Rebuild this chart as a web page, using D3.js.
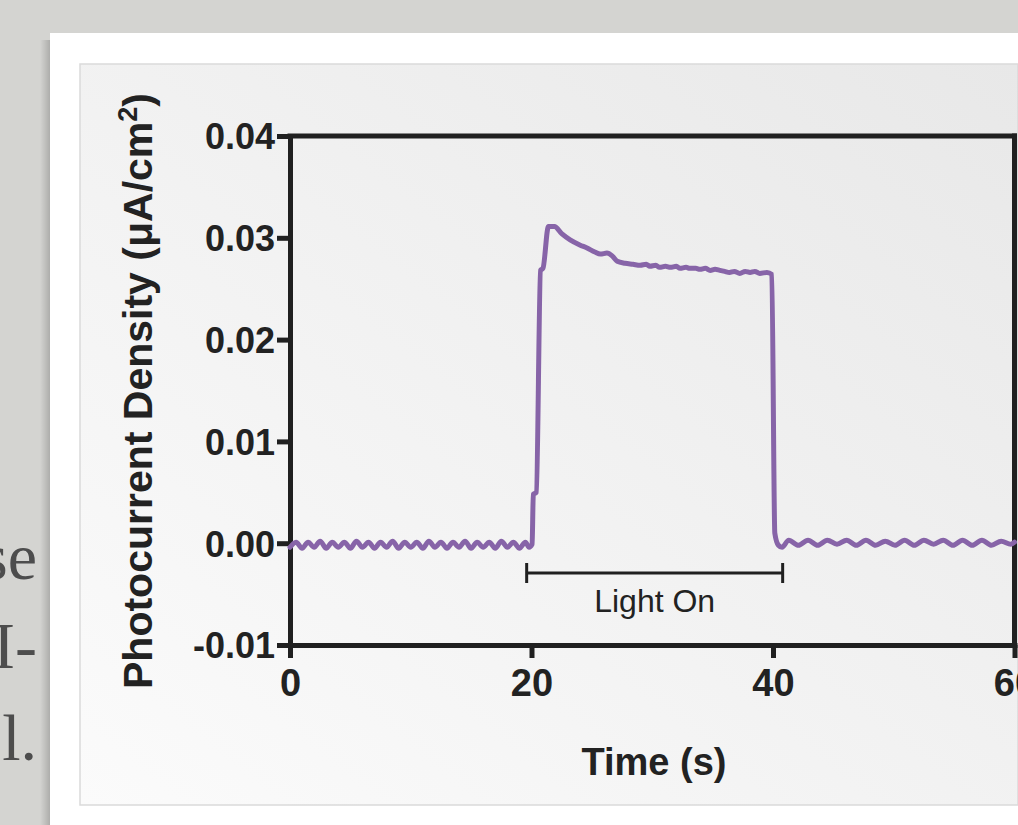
<!DOCTYPE html>
<html lang="en">
<head>
  <meta charset="UTF-8">
  <title>Photocurrent</title>
  <script src="https://cdn.jsdelivr.net/npm/d3@7"></script>
  <style>
    html, body { margin: 0; padding: 0; background: #d4d4d1; overflow: hidden; }
    svg { display: block; }
    .axis text { font-family: "Liberation Sans", Arial, sans-serif; font-weight: bold; fill: #222; }
  </style>
</head>
<body>
  <div id="container"></div>
  <script>
    const svg_width = 1018;
    const svg_height = 825;

    // data: time (s) and photocurrent density (uA/cm2)
    const tBefore = [0, 0.5, 1, 1.5, 2, 2.5, 3, 3.5, 4, 4.5, 5, 5.5, 6, 6.5, 7, 7.5, 8, 8.5, 9, 9.5,
      10, 10.5, 11, 11.5, 12, 12.5, 13, 13.5, 14, 14.5, 15, 15.5, 16, 16.5, 17, 17.5, 18, 18.5, 19, 19.5];
    const iBefore = [-0.0004, 0.0001, -0.0005, 0.0001, -0.0004, 0.0002, -0.0005, 0.0001, -0.0004, 0.0001,
      -0.0005, 0.0002, -0.0004, 0.0001, -0.0005, 0.0001, -0.0004, 0.0002, -0.0005, 0.0001,
      -0.0004, 0.0001, -0.0005, 0.0002, -0.0004, 0.0001, -0.0005, 0.0001, -0.0004, 0.0002,
      -0.0005, 0.0001, -0.0004, 0.0001, -0.0005, 0.0002, -0.0004, 0.0001, -0.0005, 0.0001];

    const tLight = [19.8, 20.05, 20.15, 20.4, 20.75, 20.95, 21.4, 21.9, 22.5, 23.2, 24.0, 24.6, 25.25, 25.7,
      26.25, 26.7, 27.1, 27.75, 28.4, 29.0, 29.5, 29.8, 30.3, 30.6, 31.1, 31.5, 32.0, 32.3, 32.8, 33.1,
      33.6, 33.95, 34.4, 34.8, 35.2, 35.6, 36.0, 36.4, 36.8, 37.25, 37.7, 38.1, 38.5, 38.9, 39.5, 39.9,
      40.15, 40.45, 40.75];
    const iLight = [-0.0004, -0.0001, 0.0048, 0.0050, 0.0268, 0.0270, 0.0311, 0.0311, 0.0304, 0.0298, 0.0293,
      0.0290, 0.0286, 0.0284, 0.0285, 0.0282, 0.0277, 0.0275, 0.0274, 0.0273, 0.0274, 0.0272, 0.0273,
      0.0271, 0.0272, 0.0271, 0.0272, 0.0270, 0.0271, 0.0270, 0.0270, 0.0269, 0.0270, 0.0268, 0.0269,
      0.0268, 0.0267, 0.0266, 0.0267, 0.0265, 0.0267, 0.0266, 0.0267, 0.0265, 0.0266, 0.0264,
      0.0010, -0.0002, -0.0004];

    const tAfter = [41.3, 42.1, 42.9, 43.7, 44.5, 45.3, 46.1, 46.9, 47.7, 48.5, 49.3, 50.1, 50.9, 51.7,
      52.5, 53.3, 54.1, 54.9, 55.7, 56.5, 57.3, 58.1, 58.9, 59.7, 60.0];
    const iAfter = [0.0003, -0.0002, 0.0003, -0.0002, 0.0003, -0.0001, 0.0003, -0.0002, 0.0003, -0.0002,
      0.0002, -0.0002, 0.0003, -0.0002, 0.0003, -0.0001, 0.0003, -0.0002, 0.0003, -0.0002,
      0.0003, -0.0002, 0.0002, -0.0001, 0.0001];

    const xTicks = [0, 20, 40, 60];
    const yTicks = [-0.01, 0.00, 0.01, 0.02, 0.03, 0.04];
    const lightOn = [19.6, 40.8];

    var dataset = [];
    tBefore.forEach(function (t, i) { dataset.push([t, iBefore[i]]); });
    tLight.forEach(function (t, i) { dataset.push([t, iLight[i]]); });
    tAfter.forEach(function (t, i) { dataset.push([t, iAfter[i]]); });

    var svg = d3.select('#container')
      .append('svg')
      .attr('width', svg_width)
      .attr('height', svg_height);

    var defs = svg.append('defs');
    var panelGrad = defs.append('linearGradient').attr('id', 'panel-grad')
      .attr('x1', 0).attr('y1', 1).attr('x2', 1).attr('y2', 0);
    panelGrad.append('stop').attr('offset', '0%').attr('stop-color', '#fbfbfb');
    panelGrad.append('stop').attr('offset', '100%').attr('stop-color', '#e8e8e8');
    var shadowGrad = defs.append('linearGradient').attr('id', 'shadow-grad');
    shadowGrad.append('stop').attr('offset', '0%').attr('stop-color', '#000').attr('stop-opacity', 0);
    shadowGrad.append('stop').attr('offset', '100%').attr('stop-color', '#000').attr('stop-opacity', 0.22);

    // slide background and the cut-off text at the left
    svg.append('rect').attr('width', svg_width).attr('height', svg_height).attr('fill', '#d4d4d1');
    svg.selectAll('.side-text')
      .data([['se', 579], ['I-', 668], ['l.', 760]])
      .enter()
      .append('text')
      .attr('class', 'side-text')
      .attr('x', 37)
      .attr('y', function (d) { return d[1]; })
      .attr('text-anchor', 'end')
      .style('font-family', '"Liberation Serif", "Times New Roman", serif')
      .style('font-size', '66px')
      .style('fill', '#4d4d4d')
      .text(function (d) { return d[0]; });

    // card
    svg.append('rect').attr('x', 40).attr('y', 40).attr('width', 12).attr('height', svg_height - 40).attr('fill', 'url(#shadow-grad)');
    svg.append('rect').attr('x', 50).attr('y', 33).attr('width', svg_width - 50).attr('height', svg_height - 33).attr('fill', '#ffffff');
    svg.append('rect').attr('x', 80).attr('y', 64).attr('width', svg_width - 80).attr('height', 741)
      .attr('fill', 'url(#panel-grad)').attr('stroke', '#dadada').attr('stroke-width', 1.5);

    // scales
    var x_scale = d3.scaleLinear().domain([0, 60]).range([290, 1014.5]);
    var y_scale = d3.scaleLinear().domain([-0.01, 0.04]).range([645, 136]);

    var axis_color = '#202020';

    // frame (top and right)
    svg.append('line')
      .attr('x1', x_scale(0)).attr('x2', x_scale(60))
      .attr('y1', y_scale(0.04)).attr('y2', y_scale(0.04))
      .attr('stroke', axis_color).attr('stroke-width', 5).attr('stroke-linecap', 'square');
    svg.append('line')
      .attr('x1', x_scale(60)).attr('x2', x_scale(60))
      .attr('y1', y_scale(0.04)).attr('y2', y_scale(-0.01))
      .attr('stroke', axis_color).attr('stroke-width', 5).attr('stroke-linecap', 'square');

    // y axis
    var y_axis = d3.axisLeft(y_scale)
      .tickValues(yTicks)
      .tickFormat(function (d) { return d.toFixed(2); })
      .tickSize(13)
      .tickSizeOuter(0)
      .tickPadding(2);
    var gy = svg.append('g').attr('class', 'axis')
      .attr('transform', 'translate(' + x_scale(0) + ',0)')
      .call(y_axis);
    gy.selectAll('text').style('font-size', '36px').attr('dy', '0.36em');

    // x axis
    var x_axis = d3.axisBottom(x_scale)
      .tickValues(xTicks)
      .tickFormat(d3.format('d'))
      .tickSize(13)
      .tickSizeOuter(0)
      .tickPadding(11);
    var gx = svg.append('g').attr('class', 'axis')
      .attr('transform', 'translate(0,' + y_scale(-0.01) + ')')
      .call(x_axis);
    gx.selectAll('text').style('font-size', '38px');

    svg.selectAll('.axis path')
      .attr('stroke', axis_color).attr('stroke-width', 5).attr('stroke-linecap', 'square');
    svg.selectAll('.axis line')
      .attr('stroke', axis_color).attr('stroke-width', 5);

    // axis titles
    svg.append('text')
      .attr('x', 654).attr('y', 775)
      .attr('text-anchor', 'middle')
      .style('font-family', '"Liberation Sans", Arial, sans-serif')
      .style('font-weight', 'bold').style('font-size', '38px').style('fill', '#222')
      .text('Time (s)');

    var ytitle = svg.append('text')
      .attr('transform', 'translate(152,391) rotate(-90)')
      .attr('text-anchor', 'middle')
      .style('font-family', '"Liberation Sans", Arial, sans-serif')
      .style('font-weight', 'bold').style('font-size', '41px').style('fill', '#222');
    ytitle.append('tspan').text('Photocurrent Density (\u03bcA/cm');
    ytitle.append('tspan').attr('baseline-shift', 'super').style('font-size', '27px').text('2');
    ytitle.append('tspan').text(')');

    // light on bracket
    var bracket = svg.append('g').attr('stroke', axis_color).attr('stroke-width', 3);
    bracket.append('line')
      .attr('x1', x_scale(lightOn[0])).attr('x2', x_scale(lightOn[1]))
      .attr('y1', 573).attr('y2', 573);
    bracket.selectAll('.cap')
      .data(lightOn)
      .enter()
      .append('line')
      .attr('class', 'cap')
      .attr('x1', function (d) { return x_scale(d); })
      .attr('x2', function (d) { return x_scale(d); })
      .attr('y1', 563).attr('y2', 583);
    svg.append('text')
      .attr('x', x_scale((lightOn[0] + lightOn[1]) / 2)).attr('y', 612)
      .attr('text-anchor', 'middle')
      .style('font-family', '"Liberation Sans", Arial, sans-serif')
      .style('font-size', '32px').style('fill', '#222')
      .text('Light On');

    // photocurrent trace
    var line = d3.line()
      .x(function (d) { return x_scale(d[0]); })
      .y(function (d) { return y_scale(d[1]); })
      .curve(d3.curveMonotoneX);
    svg.append('path')
      .datum(dataset)
      .attr('d', line)
      .attr('fill', 'none')
      .attr('stroke', '#8764a8')
      .attr('stroke-width', 5)
      .attr('stroke-linejoin', 'round')
      .attr('stroke-linecap', 'round');
  </script>
</body>
</html>
